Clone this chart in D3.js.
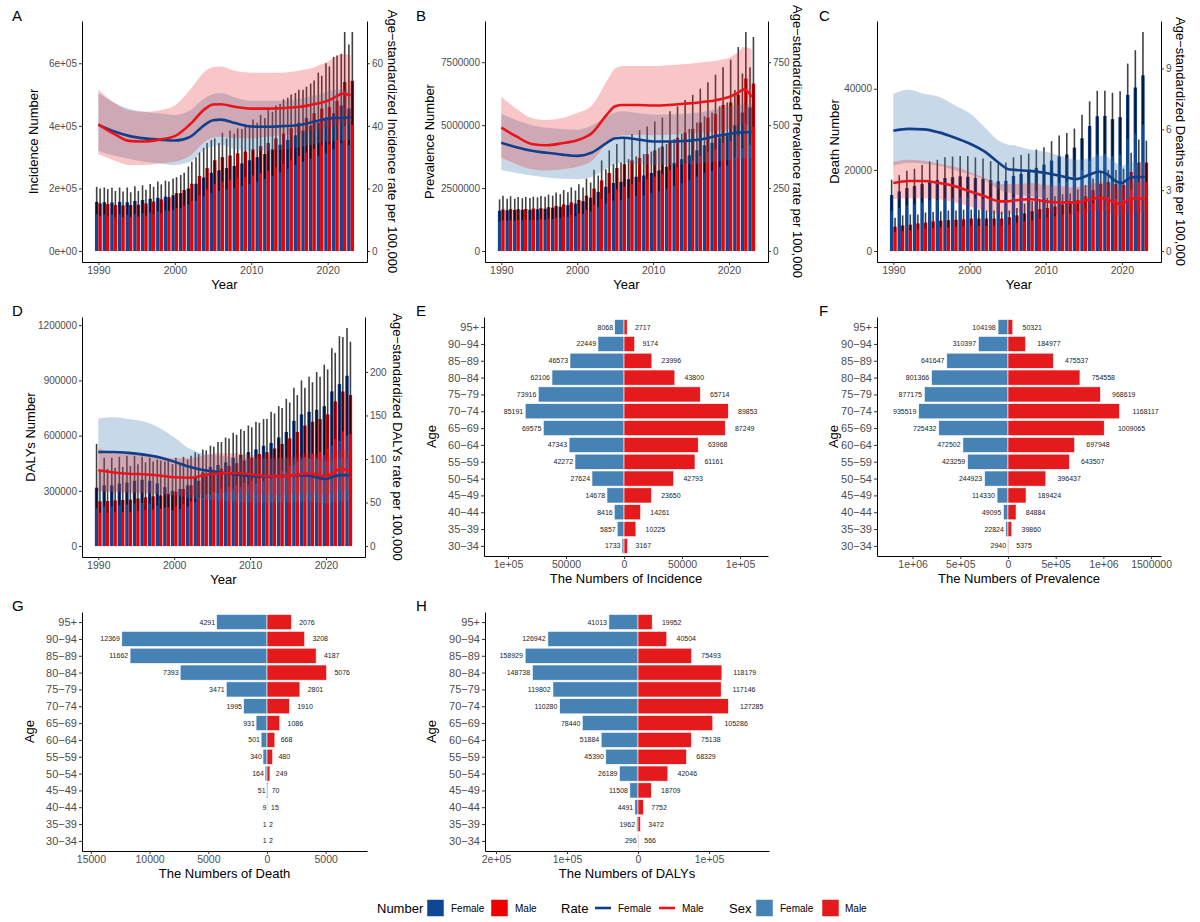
<!DOCTYPE html>
<html>
<head>
<meta charset="utf-8">
<script src="https://cdn.jsdelivr.net/npm/d3@7"></script>
<style>
body { margin: 0; background: #fff; }
</style>
</head>
<body>
<div id="fig"></div>
<script>
// ---------- data ----------
var years = d3.range(1990, 2024);
var rateYears = [1990,1992,1994,1996,1998,2000,2002,2004,2005,2006,2008,2010,2012,2014,2016,2017,2018,2019,2020,2021,2022,2023];

// A: incidence numbers (thousands)
var incFemale   = [157,156,155,157,156,160,163,167,170,174,178,185,200,215,235,250,258,265,272,280,290,300,310,325,340,355,370,385,400,410,420,440,465,455];
var incFemaleLo = [118,117,116,117,116,119,121,124,126,130,132,137,148,160,175,185,192,197,202,208,215,222,230,240,252,263,275,285,296,304,312,326,345,338];
var incFemaleHi = [205,203,202,203,203,207,210,214,222,225,232,243,270,300,330,355,345,360,375,390,395,410,425,445,470,490,505,515,535,570,600,620,630,660];
var incMale     = [152,150,147,146,147,148,152,158,165,172,185,195,215,240,265,290,300,305,312,318,325,335,345,360,375,392,410,425,440,455,460,480,540,544];
var incMaleLo   = [113,111,109,108,109,110,113,117,122,128,137,145,160,178,197,215,222,226,232,236,241,248,256,267,278,290,304,315,326,337,341,355,400,403];
var incMaleHi   = [200,198,192,190,188,192,196,205,213,222,236,250,285,315,345,360,378,385,392,405,420,435,450,465,485,500,515,525,545,560,590,625,700,700];
// A: age-standardized incidence rate
var incRateFemale   = [40.3,38.3,36.8,36.0,35.6,35.3,36.5,40.5,41.8,42.0,40.8,39.8,39.7,39.9,40.2,40.6,41.2,41.8,42.3,42.5,42.5,42.8];
var incRateFemaleLo = [32,30.5,29.5,28.5,28,27.5,28.5,32.5,33.5,34,32.5,32,32,32.5,33,33.5,34,34.5,35,35.2,35.2,35.5];
var incRateFemaleHi = [50.5,47.5,45.5,44.5,44,43.5,45,49,50.2,50.5,49,48,48,48,48.5,49,49.5,50.2,51,51.5,51.5,52];
var incRateMale     = [40.5,37.5,35.2,35.0,35.6,36.7,40.5,45.5,46.8,46.9,46.0,45.5,45.5,45.6,46.0,46.3,46.8,47.3,48.0,49.2,50.3,49.8];
var incRateMaleLo   = [31,29,27.5,27.5,28,28.5,30.5,35,36.3,36.5,36,36,36.5,37,37.5,38,38.5,39,39.5,40,40.5,40.5];
var incRateMaleHi   = [51.5,47.5,45,44.5,45,46.5,51.5,57.5,58.8,59,57.5,57,57,57,57.5,58,58.5,59.5,60.5,62,63,62.5];

// B: prevalence numbers (thousands)
var prevFemale   = [1600,1620,1630,1640,1640,1660,1680,1720,1760,1820,1880,1980,2120,2350,2550,2700,2750,2850,2950,3000,3100,3200,3350,3500,3650,3800,4000,4200,4300,4500,4600,5000,5500,5700];
var prevFemaleLo = [1180,1200,1200,1210,1210,1230,1240,1270,1300,1350,1390,1470,1570,1740,1890,2000,2030,2110,2180,2220,2290,2370,2480,2590,2700,2810,2960,3110,3180,3330,3400,3700,4070,4220];
var prevFemaleHi = [2050,2080,2080,2100,2110,2130,2160,2200,2260,2330,2400,2520,2720,3000,3250,3450,3520,3650,3750,3850,3950,4100,4250,4450,4650,4850,5100,5350,5500,5750,5900,6400,7050,7300];
var prevMale     = [1650,1660,1660,1670,1680,1700,1740,1790,1850,1930,2030,2200,2480,2800,3100,3300,3450,3600,3700,3850,4000,4150,4350,4500,4700,4850,5100,5300,5450,5800,5900,6200,6850,6650];
var prevMaleLo   = [1220,1230,1230,1240,1240,1260,1290,1320,1370,1430,1500,1630,1840,2070,2290,2440,2550,2660,2740,2850,2960,3070,3220,3330,3480,3590,3770,3920,4030,4290,4370,4590,5070,4920];
var prevMaleHi   = [2200,2180,2150,2150,2160,2190,2240,2320,2420,2530,2650,2880,3230,3600,4000,4250,4450,4650,4800,4950,5150,5300,5550,5750,6000,6200,6450,6700,7000,7300,7600,8100,8700,8500];
var prevRateFemale   = [430,412,398,390,383,378,392,432,448,450,443,435,435,437,442,447,455,460,465,470,472,472];
var prevRateFemaleLo = [322,310,300,292,287,285,295,330,345,350,345,342,342,345,348,352,355,358,362,365,368,368];
var prevRateFemaleHi = [545,520,500,490,485,482,500,535,550,555,548,542,542,545,550,555,562,568,575,580,582,582];
var prevRateMale     = [490,455,425,420,428,440,470,545,575,580,580,578,580,585,590,594,597,604,612,625,642,612];
var prevRateMaleLo   = [370,345,325,320,325,335,360,430,455,460,462,460,462,465,470,472,475,480,485,495,505,485];
var prevRateMaleHi   = [612,565,528,520,528,548,580,680,725,735,735,735,738,742,748,752,755,760,768,785,810,800];

// C: death numbers (thousands)
var deathFemale   = [13.8,14.7,15.5,16.0,16.5,17.3,17.5,18.0,18.2,18.4,18.3,18.0,17.8,17.5,17.2,17.3,18.5,19.0,19.5,20.5,21.3,22.3,23.3,23.8,25.5,27.8,30.8,33.2,33.3,32.5,33.0,38.5,40.3,43.3];
var deathFemaleLo = [9.9,10.6,11.2,11.5,11.9,12.5,12.6,13.0,13.1,13.2,13.2,13.0,12.8,12.6,12.4,12.5,13.3,13.7,14.0,14.8,15.3,16.1,16.8,17.1,18.4,20.0,22.2,23.9,24.0,23.4,23.8,27.7,29.0,31.2];
var deathFemaleHi = [17.6,18.7,19.8,20.3,21.2,22.1,22.5,23.1,23.3,23.4,23.4,23.1,22.8,22.2,21.5,21.8,23.1,23.7,24.0,25.0,25.6,27.1,28.5,29.1,30.2,33.6,36.9,39.5,39.5,39.0,39.4,46.2,49.5,54.0];
var deathMale     = [6.0,6.3,6.5,6.8,7.0,7.3,7.5,7.6,7.7,7.8,8.0,8.0,8.0,8.0,8.0,8.3,8.8,9.3,9.8,10.3,10.6,11.0,11.5,11.8,12.5,13.5,15.0,16.5,17.0,16.5,16.3,19.5,21.8,21.8];
var deathMaleLo   = [4.7,4.9,5.1,5.3,5.5,5.7,5.9,5.9,6.0,6.1,6.2,6.2,6.2,6.2,6.2,6.5,6.9,7.3,7.6,8.0,8.3,8.6,9.0,9.2,9.8,10.5,11.7,12.9,13.3,12.9,12.7,15.2,17.0,17.0];
var deathMaleHi   = [8.2,8.8,9.0,9.0,9.5,9.6,9.8,10.0,10.0,10.2,10.2,10.2,10.0,10.0,9.7,10.0,10.6,11.7,12.3,12.8,13.1,13.5,14.0,14.2,15.2,16.3,17.9,19.6,20.0,20.0,20.3,24.2,27.5,27.2];
var deathRateFemale   = [5.93,6.02,6.0,5.85,5.6,5.3,4.9,4.3,4.05,4.0,3.95,3.85,3.7,3.55,3.8,3.92,3.8,3.5,3.35,3.6,3.65,3.65];
var deathRateFemaleLo = [4.2,4.35,4.3,4.2,4.0,3.8,3.5,3.0,2.9,2.8,2.7,2.6,2.5,2.5,2.6,2.7,2.6,2.4,2.3,2.45,2.5,2.5];
var deathRateFemaleHi = [7.75,7.95,7.75,7.6,7.2,6.8,6.1,5.4,5.25,5.2,5.0,4.9,4.7,4.5,4.6,4.7,4.65,4.4,4.2,4.35,4.4,4.4];
var deathRateMale     = [3.35,3.45,3.45,3.35,3.2,2.95,2.7,2.45,2.45,2.5,2.55,2.45,2.4,2.4,2.55,2.62,2.55,2.4,2.3,2.55,2.6,2.55];
var deathRateMaleLo   = [2.55,2.6,2.6,2.55,2.4,2.2,2.0,1.8,1.8,1.85,1.9,1.85,1.8,1.8,1.95,2.0,1.95,1.8,1.75,1.9,1.95,1.95];
var deathRateMaleHi   = [4.4,4.5,4.45,4.3,4.15,3.9,3.6,3.3,3.3,3.3,3.35,3.25,3.2,3.15,3.3,3.4,3.35,3.2,3.1,3.35,3.4,3.4];

// D: DALYs numbers (thousands)
var dalyFemale   = [317,330,330,340,345,355,360,355,340,320,300,310,330,370,400,430,440,455,480,495,510,525,545,560,590,620,680,715,730,740,760,840,880,925];
var dalyFemaleLo = [206,215,215,221,224,231,234,231,221,208,195,202,215,241,260,280,286,296,312,322,332,341,354,364,384,403,442,465,475,481,494,546,572,601];
var dalyFemaleHi = [555,480,480,485,490,490,485,480,470,460,445,445,470,510,525,545,565,590,615,635,655,675,690,730,760,800,860,900,920,945,985,1075,1140,1185];
var dalyMale     = [243,245,248,250,252,258,265,270,275,285,295,310,330,355,380,400,420,435,450,465,480,500,510,530,555,585,620,655,675,690,715,785,840,820];
var dalyMaleLo   = [180,181,184,185,186,191,196,200,204,211,218,229,244,263,281,296,311,322,333,344,355,370,377,392,411,433,459,485,500,511,529,581,622,607];
var dalyMaleHi   = [405,420,425,430,435,445,455,460,465,470,480,485,490,500,520,540,565,585,605,625,645,670,690,720,750,780,820,860,890,920,960,1050,1135,1110];
var dalyRateFemale   = [108,108,107,105,102,97,91,87,86,84.5,82.5,80.5,80,80.5,81,81.5,80.5,78.5,77,80,81.5,81.5];
var dalyRateFemaleLo = [63,63,62.5,62,60,58,55,53,52.5,52,51,50,50,50,51,51,51,50,49,50.5,51,51];
var dalyRateFemaleHi = [146.5,148,146,143,136,125,112,106,105,104,102,101,100,101,101,101.5,101,99,97,100,101,101];
var dalyRateMale     = [87,84.5,83,82.5,81,79,78.5,81.5,83,83.5,84,82.5,80.5,80,81.5,83,83.5,82,80,84.5,89,85.5];
var dalyRateMaleLo   = [63,61.5,60.5,60,59,58,58,59.5,61,61.5,62,61,59.5,59,60.5,61.5,62,60.5,59,62,65,63];
var dalyRateMaleHi   = [112,108,106,105,103,101,101,104,106,106.5,106.5,105,103,102,104,106,106.5,105,102,107,112,108];

// E-H: age pyramids (top row first)
var ages = ["95+","90\u221294","85\u221289","80\u221284","75\u221279","70\u221274","65\u221269","60\u221264","55\u221259","50\u221254","45\u221249","40\u221244","35\u221239","30\u221234"];
var pyrIncFemale  = [8068,22449,46573,62106,73916,85191,69575,47343,42272,27624,14678,8416,5857,1733];
var pyrIncMale    = [2717,9174,23996,43800,65714,89853,87249,63968,61161,42793,23650,14261,10225,3167];
var pyrPrevFemale = [104198,310397,641647,801366,877175,935519,725432,472502,423259,244923,114330,49095,22824,2940];
var pyrPrevMale   = [50321,184977,475537,754558,968619,1168117,1009065,697948,643507,396437,189424,84884,39860,5375];
var pyrDeathFemale = [4291,12369,11662,7393,3471,1995,931,501,340,164,51,9,1,1];
var pyrDeathMale   = [2076,3208,4187,5076,2801,1910,1086,668,480,249,70,15,2,2];
var pyrDalyFemale  = [41013,126942,158929,148738,119802,110280,78440,51884,45390,26189,11508,4491,1962,296];
var pyrDalyMale    = [19952,40504,75493,118179,117146,127285,105286,75138,68329,42046,18709,7752,3472,566];

// tick labels
var incTicks = [0, 200000, 400000, 600000], incTickLabels = ["0e+00","2e+05","4e+05","6e+05"], incRateTicks = [0,20,40,60];
var prevTicks = [0, 2500000, 5000000, 7500000], prevTickLabels = ["0","2500000","5000000","7500000"], prevRateTicks = [0,250,500,750];
var deathTicks = [0, 20000, 40000], deathTickLabels = ["0","20000","40000"], deathRateTicks = [0,3,6,9];
var dalyTicks = [0,300000,600000,900000,1200000], dalyTickLabels = ["0","300000","600000","900000","1200000"], dalyRateTicks = [0,50,100,150,200];
var yearTicks = [1990, 2000, 2010, 2020];
var pyrIncTicks = [-100000,-50000,0,50000,100000], pyrIncTickLabels = ["1e+05","50000","0","50000","1e+05"];
var pyrPrevTicks = [-1000000,-500000,0,500000,1000000,1500000], pyrPrevTickLabels = ["1e+06","5e+05","0","5e+05","1e+06","1500000"];
var pyrDeathTicks = [-15000,-10000,-5000,0,5000], pyrDeathTickLabels = ["15000","10000","5000","0","5000"];
var pyrDalyTicks = [-200000,-100000,0,100000], pyrDalyTickLabels = ["2e+05","1e+05","0","1e+05"];

// ---------- drawing ----------
var FONT = "'Liberation Sans', Arial, Helvetica, sans-serif";
var colNumF = "#0F4696", colNumM = "#EE0000";
var colRateF = "#123F8A", colRateM = "#E8141B";
var colSexF = "#4682B4", colSexM = "#E41A1C";

var svg = d3.select("#fig").append("svg")
    .attr("width", 1200)
    .attr("height", 922)
    .style("background", "#fff")
    .style("font-family", FONT);

function styleAxis(sel, size) {
  sel.attr("font-family", FONT);
  sel.select(".domain").attr("stroke", "#000").attr("stroke-width", 1);
  sel.selectAll(".tick line").attr("stroke", "#333").attr("stroke-width", 1);
  sel.selectAll(".tick text").attr("fill", "#4d4d4d").style("font-size", size + "px");
}

function letter(t, x, y) {
  svg.append("text").attr("x", x).attr("y", y).style("font-size", "15px").attr("fill", "#000").text(t);
}

function drawTrend(p) {
  var g = svg.append("g");
  var x = d3.scaleLinear().domain([1987.855, 2025.145]).range([p.left, p.right]);
  var top = d3.max(p.fHi.concat(p.mHi)) * 1000;
  var y = d3.scaleLinear().domain([-0.05 * top, 1.05 * top]).range([p.bottom, p.top]);
  var yr = d3.scaleLinear().domain(y.domain().map(function(v) { return v / p.factor; })).range(y.range());
  var bw = x(0.45) - x(0);

  var bars = [];
  years.forEach(function(yy, i) {
    bars.push({ year: yy, off: -0.225, col: colNumF, n: p.fN[i] * 1000, lo: p.fLo[i] * 1000, hi: p.fHi[i] * 1000 });
    bars.push({ year: yy, off: 0.225, col: colNumM, n: p.mN[i] * 1000, lo: p.mLo[i] * 1000, hi: p.mHi[i] * 1000 });
  });

  g.selectAll("rect.bar").data(bars).enter().append("rect")
    .attr("class", "bar")
    .attr("x", function(d) { return x(d.year + d.off) - bw / 2; })
    .attr("width", bw)
    .attr("y", function(d) { return y(d.n); })
    .attr("height", function(d) { return y(0) - y(d.n); })
    .attr("fill", function(d) { return d.col; });

  g.selectAll("line.err").data(bars).enter().append("line")
    .attr("class", "err")
    .attr("x1", function(d) { return x(d.year + d.off); })
    .attr("x2", function(d) { return x(d.year + d.off); })
    .attr("y1", function(d) { return y(d.lo); })
    .attr("y2", function(d) { return y(d.hi); })
    .attr("stroke", "#000")
    .attr("stroke-opacity", 0.75)
    .attr("stroke-width", 1.6);

  // rate ribbons + lines
  var series = [
    { r: p.rF, lo: p.rFLo, hi: p.rFHi, fill: "#4682B4", op: 0.3, line: colRateF },
    { r: p.rM, lo: p.rMLo, hi: p.rMHi, fill: "#E41A1C", op: 0.25, line: colRateM }
  ];
  var area = d3.area()
    .x(function(d) { return x(d.year); })
    .y0(function(d) { return yr(d.lo); })
    .y1(function(d) { return yr(d.hi); })
    .curve(d3.curveMonotoneX);
  var line = d3.line()
    .x(function(d) { return x(d.year); })
    .y(function(d) { return yr(d.r); })
    .curve(d3.curveMonotoneX);
  series.forEach(function(s) {
    var pts = rateYears.map(function(yy, i) { return { year: yy, r: s.r[i], lo: s.lo[i], hi: s.hi[i] }; });
    g.append("path").datum(pts).attr("d", area).attr("fill", s.fill).attr("fill-opacity", s.op);
  });
  series.forEach(function(s) {
    var pts = rateYears.map(function(yy, i) { return { year: yy, r: s.r[i] }; });
    g.append("path").datum(pts).attr("d", line).attr("fill", "none")
      .attr("stroke", s.line).attr("stroke-width", 2.6);
  });

  // axes
  var ax = g.append("g").attr("transform", "translate(0," + p.bottom + ")")
    .call(d3.axisBottom(x).tickValues(yearTicks).tickFormat(d3.format("d")).tickSize(3).tickSizeOuter(0).tickPadding(2));
  styleAxis(ax, 10.5);
  var ayl = g.append("g").attr("transform", "translate(" + p.left + ",0)")
    .call(d3.axisLeft(y).tickValues(p.lTicks).tickFormat(function(d, i) { return p.lLabels[i]; }).tickSize(3).tickSizeOuter(0).tickPadding(2));
  styleAxis(ayl, 10);
  var ayr = g.append("g").attr("transform", "translate(" + p.right + ",0)")
    .call(d3.axisRight(yr).tickValues(p.rTicks).tickSize(3).tickSizeOuter(0).tickPadding(2));
  styleAxis(ayr, 10);

  g.append("text").attr("x", (p.left + p.right) / 2).attr("y", p.bottom + 27)
    .attr("text-anchor", "middle").style("font-size", "13px").text("Year");
  g.append("text").attr("transform", "translate(" + p.yTitleX + "," + (p.top + p.bottom) / 2 + ") rotate(-90)")
    .attr("text-anchor", "middle").attr("dy", "0.35em").style("font-size", "13px").text(p.yTitle);
  g.append("text").attr("transform", "translate(" + p.rTitleX + "," + (p.top + p.bottom) / 2 + ") rotate(90)")
    .attr("text-anchor", "middle").attr("dy", "0.35em").style("font-size", "13px").text(p.rTitle);
}

function drawPyramid(p) {
  var g = svg.append("g");
  var x = d3.scaleLinear().domain(p.domain).range([p.left, p.right]);
  var y = d3.scalePoint().domain(ages).range([p.top, p.bottom]).padding(0.6);
  var h = y.step() * 0.9;
  var rows = ages.map(function(a, i) { return { age: a, f: p.female[i], m: p.male[i] }; });

  g.selectAll("rect.f").data(rows).enter().append("rect")
    .attr("x", function(d) { return x(-d.f); })
    .attr("width", function(d) { return x(0) - x(-d.f); })
    .attr("y", function(d) { return y(d.age) - h / 2; })
    .attr("height", h)
    .attr("fill", colSexF).attr("stroke", "#fff").attr("stroke-width", 0.6);
  g.selectAll("rect.m").data(rows).enter().append("rect")
    .attr("x", x(0))
    .attr("width", function(d) { return x(d.m) - x(0); })
    .attr("y", function(d) { return y(d.age) - h / 2; })
    .attr("height", h)
    .attr("fill", colSexM).attr("stroke", "#fff").attr("stroke-width", 0.6);

  g.selectAll("text.fl").data(rows).enter().append("text")
    .attr("y", function(d) { return y(d.age); })
    .attr("dy", "0.35em").style("font-size", "7px").attr("fill", "#222")
    .text(function(d) { return d.f; })
    .attr("x", function(d) { var w = this.getComputedTextLength(); return x(-d.f) - 1.1 * w; });
  g.selectAll("text.ml").data(rows).enter().append("text")
    .attr("y", function(d) { return y(d.age); })
    .attr("dy", "0.35em").style("font-size", "7px").attr("fill", "#222")
    .text(function(d) { return d.m; })
    .attr("x", function(d) { var w = this.getComputedTextLength(); return x(d.m) + 0.5 * w; });

  var ax = g.append("g").attr("transform", "translate(0," + p.bottom + ")")
    .call(d3.axisBottom(x).tickValues(p.ticks).tickFormat(function(d, i) { return p.tickLabels[i]; }).tickSize(3).tickSizeOuter(0).tickPadding(2));
  styleAxis(ax, 10.5);
  var ay = g.append("g").attr("transform", "translate(" + p.left + ",0)")
    .call(d3.axisLeft(y).tickSize(3).tickSizeOuter(0).tickPadding(2));
  styleAxis(ay, 11);

  g.append("text").attr("x", (p.left + p.right) / 2).attr("y", p.bottom + 27)
    .attr("text-anchor", "middle").style("font-size", "13px").text(p.title);
  g.append("text").attr("transform", "translate(" + p.yTitleX + "," + (p.top + p.bottom) / 2 + ") rotate(-90)")
    .attr("text-anchor", "middle").attr("dy", "0.35em").style("font-size", "13px").text("Age");
}

drawTrend({ left: 82, right: 367, top: 21, bottom: 262, factor: 10000,
  fN: incFemale, fLo: incFemaleLo, fHi: incFemaleHi, mN: incMale, mLo: incMaleLo, mHi: incMaleHi,
  rF: incRateFemale, rFLo: incRateFemaleLo, rFHi: incRateFemaleHi, rM: incRateMale, rMLo: incRateMaleLo, rMHi: incRateMaleHi,
  lTicks: incTicks, lLabels: incTickLabels, rTicks: incRateTicks,
  yTitle: "Incidence Number", yTitleX: 33, rTitle: "Age\u2212standardized Incidence rate per 100,000", rTitleX: 393 });

drawTrend({ left: 485, right: 768, top: 21, bottom: 262, factor: 10000,
  fN: prevFemale, fLo: prevFemaleLo, fHi: prevFemaleHi, mN: prevMale, mLo: prevMaleLo, mHi: prevMaleHi,
  rF: prevRateFemale, rFLo: prevRateFemaleLo, rFHi: prevRateFemaleHi, rM: prevRateMale, rMLo: prevRateMaleLo, rMHi: prevRateMaleHi,
  lTicks: prevTicks, lLabels: prevTickLabels, rTicks: prevRateTicks,
  yTitle: "Prevalence Number", yTitleX: 429, rTitle: "Age\u2212standardized Prevalence rate per 100,000", rTitleX: 798 });

drawTrend({ left: 877, right: 1161, top: 21, bottom: 262, factor: 5000,
  fN: deathFemale, fLo: deathFemaleLo, fHi: deathFemaleHi, mN: deathMale, mLo: deathMaleLo, mHi: deathMaleHi,
  rF: deathRateFemale, rFLo: deathRateFemaleLo, rFHi: deathRateFemaleHi, rM: deathRateMale, rMLo: deathRateMaleLo, rMHi: deathRateMaleHi,
  lTicks: deathTicks, lLabels: deathTickLabels, rTicks: deathRateTicks,
  yTitle: "Death Number", yTitleX: 834, rTitle: "Age\u2212standardized Deaths rate per 100,000", rTitleX: 1181 });

drawTrend({ left: 82, right: 365, top: 317, bottom: 557, factor: 4730,
  fN: dalyFemale, fLo: dalyFemaleLo, fHi: dalyFemaleHi, mN: dalyMale, mLo: dalyMaleLo, mHi: dalyMaleHi,
  rF: dalyRateFemale, rFLo: dalyRateFemaleLo, rFHi: dalyRateFemaleHi, rM: dalyRateMale, rMLo: dalyRateMaleLo, rMHi: dalyRateMaleHi,
  lTicks: dalyTicks, lLabels: dalyTickLabels, rTicks: dalyRateTicks,
  yTitle: "DALYs Number", yTitleX: 30, rTitle: "Age\u2212standardized DALYs rate per 100,000", rTitleX: 398 });

drawPyramid({ left: 484, right: 768, top: 317, bottom: 556, domain: [-120700, 124100],
  female: pyrIncFemale, male: pyrIncMale, ticks: pyrIncTicks, tickLabels: pyrIncTickLabels,
  title: "The Numbers of Incidence", yTitleX: 431 });
drawPyramid({ left: 877, right: 1161, top: 317, bottom: 556, domain: [-1373000, 1604000],
  female: pyrPrevFemale, male: pyrPrevMale, ticks: pyrPrevTicks, tickLabels: pyrPrevTickLabels,
  title: "The Numbers of Prevalence", yTitleX: 833 });
drawPyramid({ left: 82, right: 367, top: 612, bottom: 851, domain: [-15758, 8518],
  female: pyrDeathFemale, male: pyrDeathMale, ticks: pyrDeathTicks, tickLabels: pyrDeathTickLabels,
  title: "The Numbers of Death", yTitleX: 29 });
drawPyramid({ left: 485, right: 769, top: 612, bottom: 851, domain: [-215500, 184500],
  female: pyrDalyFemale, male: pyrDalyMale, ticks: pyrDalyTicks, tickLabels: pyrDalyTickLabels,
  title: "The Numbers of DALYs", yTitleX: 431 });

letter("A", 12, 21); letter("B", 416, 21); letter("C", 819, 21);
letter("D", 12, 316); letter("E", 416, 316); letter("F", 819, 316);
letter("G", 12, 611); letter("H", 416, 611);

// legend
var leg = svg.append("g");
var ly = 908;
function legTitle(t, x) { leg.append("text").attr("x", x).attr("y", ly).attr("dy", "0.35em").style("font-size", "13px").text(t); }
function legLabel(t, x) { leg.append("text").attr("x", x).attr("y", ly).attr("dy", "0.35em").style("font-size", "10px").text(t); }
function legBox(c, x) { leg.append("rect").attr("x", x).attr("y", ly - 8.5).attr("width", 17).attr("height", 17).attr("fill", c).attr("stroke", "#fff").attr("stroke-width", 0.5); }
function legLine(c, x) { leg.append("line").attr("x1", x).attr("x2", x + 16).attr("y1", ly).attr("y2", ly).attr("stroke", c).attr("stroke-width", 2.6); }
legTitle("Number", 377); legBox(colNumF, 427); legLabel("Female", 451); legBox(colNumM, 491); legLabel("Male", 515);
legTitle("Rate", 561); legLine(colRateF, 595); legLabel("Female", 618); legLine(colRateM, 659); legLabel("Male", 682);
legTitle("Sex", 729); legBox(colSexF, 756); legLabel("Female", 780); legBox(colSexM, 822); legLabel("Male", 845);
</script>
</body>
</html>
